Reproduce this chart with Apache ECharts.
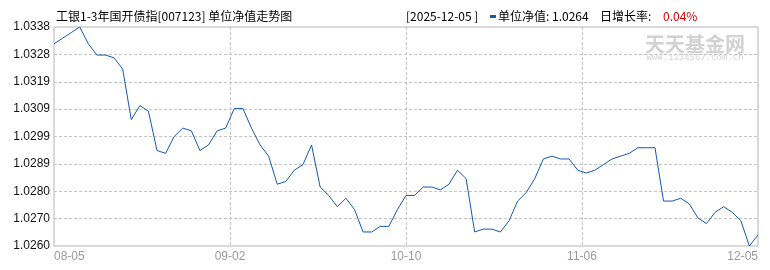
<!DOCTYPE html>
<html><head><meta charset="utf-8">
<script src="https://cdn.jsdelivr.net/npm/echarts@6/dist/echarts.min.js"></script>
<style>html,body{margin:0;padding:0;background:#fff}#c{width:770px;height:270px}</style>
</head><body><div id="c"></div>
<script>
const chartTitle = '工银1-3年国开债指[007123] 单位净值走势图';
const year = '2025';
const dates = [
  '08-05','08-06','08-07','08-08','08-11','08-12','08-13','08-14','08-15',
  '08-18','08-19','08-20','08-21','08-22','08-25','08-26','08-27','08-28','08-29',
  '09-01','09-02','09-03','09-04','09-05','09-08','09-09','09-10','09-11','09-12',
  '09-15','09-16','09-17','09-18','09-19','09-22','09-23','09-24','09-25','09-26',
  '09-29','09-30','10-09','10-10','10-13','10-14','10-15','10-16','10-17',
  '10-20','10-21','10-22','10-23','10-24','10-27','10-28','10-29','10-30','10-31',
  '11-03','11-04','11-05','11-06','11-07','11-10','11-11','11-12','11-13','11-14',
  '11-17','11-18','11-19','11-20','11-21','11-24','11-25','11-26','11-27','11-28',
  '12-01','12-02','12-03','12-04','12-05'
];
const navValues = [
  1.0332,1.0334,1.0336,1.0338,1.0332,1.0328,1.0328,1.0327,1.0323,
  1.0305,1.0310,1.0308,1.0294,1.0293,1.0299,1.0302,1.0301,1.0294,1.0296,
  1.0301,1.0302,1.0309,1.0309,1.0302,1.0296,1.0292,1.0282,1.0283,1.0287,
  1.0289,1.0296,1.0281,1.0278,1.0274,1.0277,1.0273,1.0265,1.0265,1.0267,
  1.0267,1.0273,1.0278,1.0278,1.0281,1.0281,1.0280,1.0282,1.0287,
  1.0284,1.0265,1.0266,1.0266,1.0265,1.0269,1.0276,1.0279,1.0284,1.0291,
  1.0292,1.0291,1.0291,1.0287,1.0286,1.0287,1.0289,1.0291,1.0292,1.0293,
  1.0295,1.0295,1.0295,1.0276,1.0276,1.0277,1.0275,1.0270,1.0268,1.0272,
  1.0274,1.0272,1.0269,1.0260,1.0264
];
const yTickLabels = ['1.0260','1.0270','1.0280','1.0289','1.0299','1.0309','1.0319','1.0328','1.0338'];
const xTickLabels = ['08-05','09-02','10-10','11-06','12-05'];

const yMin = parseFloat(yTickLabels[0]);
const yMax = parseFloat(yTickLabels[yTickLabels.length - 1]);
const lastVal = navValues[navValues.length - 1];
const prevVal = navValues[navValues.length - 2];
const growth = ((lastVal / prevVal - 1) * 100).toFixed(2) + '%';
const lastDate = year + '-' + dates[dates.length - 1];

const dashStyle = { color: '#c4c4c4', width: 1, type: [3, 2] };
const chart = echarts.init(document.getElementById('c'), null, { renderer: 'canvas' });
chart.setOption({
  animation: false,
  backgroundColor: '#fff',
  grid: { left: 54, top: 27, width: 704, height: 219, show: true, borderColor: '#b4b4b4', borderWidth: 1 },
  xAxis: [
    { type: 'category', data: dates, boundaryGap: false, show: false },
    { type: 'category', data: xTickLabels, boundaryGap: false, position: 'bottom',
      axisLine: { show: false }, axisTick: { show: false },
      axisLabel: { interval: 0, color: '#999', fontFamily: 'Liberation Sans', fontSize: 12, margin: 5,
        showMinLabel: true, showMaxLabel: true, alignMinLabel: 'left', alignMaxLabel: 'right' },
      splitLine: { show: true, interval: (i) => i > 0 && i < xTickLabels.length - 1, lineStyle: dashStyle } }
  ],
  yAxis: [
    { type: 'value', min: yMin, max: yMax, show: false, splitLine: { show: false } },
    { type: 'category', data: yTickLabels, boundaryGap: false, position: 'left',
      axisLine: { show: false }, axisTick: { show: false },
      axisLabel: { interval: 0, color: '#111', fontFamily: 'Liberation Sans', fontSize: 12, margin: 4,
        showMinLabel: true, showMaxLabel: true },
      splitLine: { show: true, interval: (i) => i > 0 && i < yTickLabels.length - 1, lineStyle: dashStyle } }
  ],
  series: [{
    type: 'line', xAxisIndex: 0, yAxisIndex: 0, data: navValues,
    symbol: 'none', showSymbol: false, silent: true,
    lineStyle: { width: 1, color: '#1559b0' }, z: 5
  }],
  graphic: [
    { type: 'text', x: 695, y: 44, z: -1, silent: true,
      style: { text: '天天基金网', font: 'bold 20px "Noto Sans CJK SC"', fill: '#d2d2d2', align: 'center', verticalAlign: 'middle' } },
    { type: 'text', x: 695, y: 58, z: -1, silent: true,
      style: { text: 'WWW.1234567.com.cn', font: '9px "Liberation Mono"', fill: '#d4d4d4', align: 'center', verticalAlign: 'middle' } },
    { type: 'text', x: 56, y: 16, silent: true,
      style: { text: chartTitle, font: '12px "Noto Sans CJK SC"', fill: '#000', verticalAlign: 'middle' } },
    { type: 'text', x: 406, y: 16, silent: true,
      style: { text: '[' + lastDate + ' ]', font: '12px "Noto Sans CJK SC"', fill: '#000', verticalAlign: 'middle' } },
    { type: 'rect', shape: { x: 490, y: 15, width: 6, height: 3 }, silent: true, style: { fill: '#1559b0' } },
    { type: 'text', x: 498, y: 16, silent: true,
      style: { text: '单位净值: ' + lastVal.toFixed(4), font: '12px "Noto Sans CJK SC"', fill: '#000', verticalAlign: 'middle' } },
    { type: 'text', x: 600, y: 16, silent: true,
      style: { text: '日增长率:', font: '12px "Noto Sans CJK SC"', fill: '#000', verticalAlign: 'middle' } },
    { type: 'text', x: 663, y: 16, silent: true,
      style: { text: growth, font: '12px "Noto Sans CJK SC"', fill: '#d40000', verticalAlign: 'middle' } }
  ]
});
</script></body></html>
